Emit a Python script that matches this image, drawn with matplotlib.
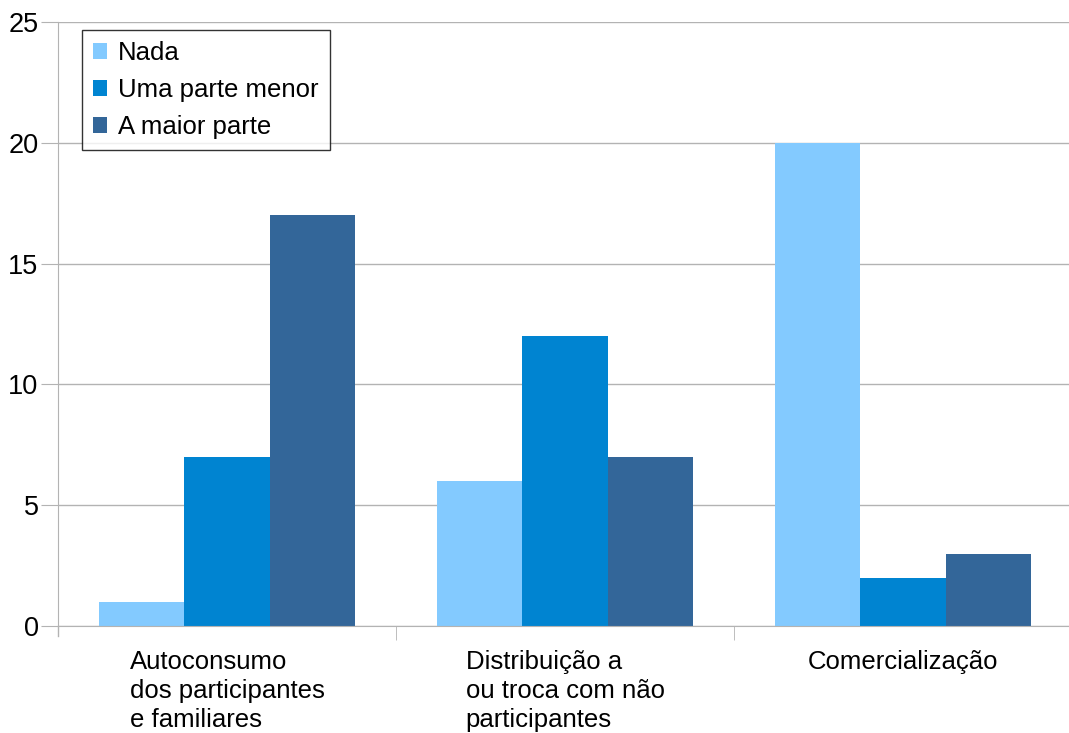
import numpy as np
import matplotlib.pyplot as plt
from matplotlib.patches import Patch

plt.rcParams['font.family'] = ['Liberation Sans', 'DejaVu Sans']

categorias = ["Autoconsumo\ndos participantes\ne familiares",
              "Distribuição a\nou troca com não\nparticipantes",
              "Comercialização"]
series = ["Nada", "Uma parte menor", "A maior parte"]
nada = [1, 6, 20]
menor = [7, 12, 2]
maior = [17, 7, 3]
cores = ["#83caff", "#0084d1", "#336699"]

W, H = 1069, 733
fig = plt.figure(figsize=(W / 100, H / 100), dpi=100)
ax = fig.add_axes([58 / W, 1 - 626 / H, (1072 - 58) / W, (626 - 22) / H])

x = np.arange(len(categorias))
larg = 0.2515
for i, (vals, cor) in enumerate(zip([nada, menor, maior], cores)):
    ax.bar(x + (i - 1) * larg, vals, width=larg, color=cor, label=series[i], zorder=2)

ax.set_xlim(-0.5, 2.5)
ax.set_ylim(0, 25)
ax.set_yticks(range(0, 26, 5))
ax.yaxis.grid(True, color="#b3b3b3", linewidth=1, zorder=0)
for s in ["top", "right"]:
    ax.spines[s].set_visible(False)
ax.spines["left"].set_color("#b3b3b3")
ax.spines["bottom"].set_color("#b3b3b3")
ax.tick_params(axis="y", length=12, color="#b3b3b3", labelsize=19.5, pad=2)

# separadores das categorias
ax.set_xticks([0.5, 1.5], minor=True)
ax.set_xticks(x)
ax.tick_params(axis="x", which="major", length=0, pad=17)
ax.tick_params(axis="x", which="minor", length=10, color="#b3b3b3")
ax.set_xticklabels(categorias, fontsize=18.5, multialignment="left", linespacing=1.27)
ax.set_xticklabels([], minor=True)
ax.plot([-0.5, -0.5], [0, -0.4], color="#b3b3b3", lw=1, clip_on=False)

handles = [Patch(facecolor=c, edgecolor="none") for c in cores]
leg = ax.legend(handles, series, loc="upper left", bbox_to_anchor=(24 / 1014, 1 - 8 / 604),
                fontsize=18.5, frameon=True, fancybox=False, edgecolor="black",
                handlelength=0.55, handleheight=0.55, handletextpad=0.4,
                labelspacing=0.5, borderpad=0.44, borderaxespad=0)
leg.get_frame().set_linewidth(1)

fig.savefig("out.png", dpi=100)
